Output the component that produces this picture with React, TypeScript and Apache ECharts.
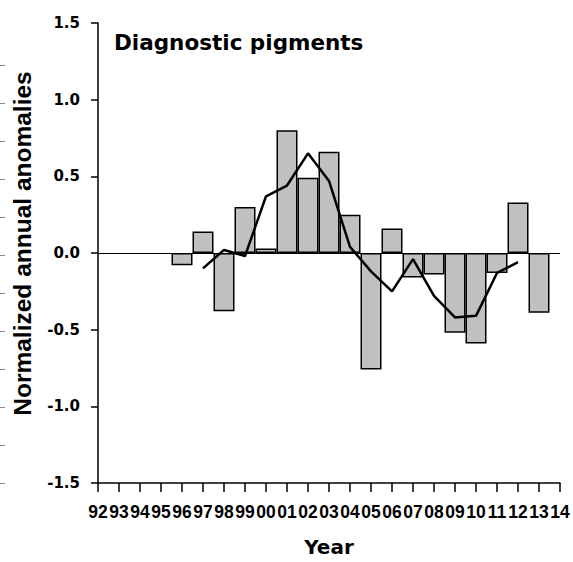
import React, { useEffect, useRef } from 'react';
import * as echarts from 'echarts';

// Tick labels of the year axis (1992 … 2014)
const tickLabels = ['92', '93', '94', '95', '96', '97', '98', '99', '00', '01', '02', '03', '04', '05', '06', '07', '08', '09', '10', '11', '12', '13', '14'];

// Annual anomalies (bars)
const barYears = ['96', '97', '98', '99', '00', '01', '02', '03', '04', '05', '06', '07', '08', '09', '10', '11', '12', '13'];
const barValues = [-0.08, 0.14, -0.38, 0.30, 0.03, 0.80, 0.49, 0.66, 0.25, -0.76, 0.16, -0.16, -0.14, -0.52, -0.59, -0.13, 0.33, -0.39];

// Smoothed anomalies (line)
const lineYears = ['97', '98', '99', '00', '01', '02', '03', '04', '05', '06', '07', '08', '09', '10', '11', '12'];
const lineValues = [-0.10, 0.02, -0.02, 0.37, 0.44, 0.65, 0.47, 0.04, -0.12, -0.25, -0.04, -0.28, -0.42, -0.41, -0.13, -0.06];

const titleText = 'Diagnostic pigments';
const yName = 'Normalized annual anomalies';
const xName = 'Year';

export default function App() {
  const ref = useRef<HTMLDivElement>(null);

  useEffect(() => {
    if (!ref.current) return;
    const chart = echarts.init(ref.current, null, { renderer: 'svg' });
    const idx = (y: string) => tickLabels.indexOf(y);

    chart.setOption({
      animation: false,
      backgroundColor: '#ffffff',
      title: {
        text: titleText,
        left: 114,
        top: 31,
        padding: 0,
        textStyle: { fontFamily: 'DejaVu Sans', fontWeight: 'bold', fontSize: 21.5, color: '#000' },
      },
      graphic: [
        {
          type: 'text',
          x: 22,
          y: 243.5,
          rotation: Math.PI / 2,
          style: {
            text: yName,
            fontFamily: 'Liberation Sans, Arial, sans-serif',
            fontWeight: 'bold',
            fontSize: 24.5,
            fill: '#000',
            textAlign: 'center',
            textVerticalAlign: 'middle',
          },
        },
      ],
      grid: [
        { left: 98, top: 23, width: 462, height: 461 },
        { left: 0, top: 65, width: 10, height: 418 },
      ],
      xAxis: [
        {
          type: 'value',
          gridIndex: 0,
          min: 0,
          max: tickLabels.length - 1,
          interval: 1,
          splitLine: { show: false },
          axisLine: { onZero: false, lineStyle: { color: '#000', width: 1.5 } },
          axisTick: { length: 9, lineStyle: { color: '#000', width: 1.5 } },
          axisLabel: {
            formatter: (v: number) => tickLabels[v] ?? '',
            fontFamily: 'Liberation Sans, Arial, sans-serif',
            fontWeight: 'bold',
            fontSize: 17.5,
            color: '#000',
            margin: 20,
          },
          name: xName,
          nameLocation: 'middle',
          nameGap: 54,
          nameTextStyle: { fontFamily: 'DejaVu Sans', fontWeight: 'bold', fontSize: 20, color: '#000' },
        },
        { type: 'value', gridIndex: 1, min: 0, max: 1, show: false },
      ],
      yAxis: [
        {
          type: 'value',
          gridIndex: 0,
          min: -1.5,
          max: 1.5,
          interval: 0.5,
          splitLine: { show: false },
          axisLine: { show: true, onZero: false, lineStyle: { color: '#000', width: 1.5 } },
          axisTick: { show: true, length: 7, lineStyle: { color: '#000', width: 1.5 } },
          axisLabel: {
            formatter: (v: number) => v.toFixed(1),
            fontFamily: 'DejaVu Sans',
            fontWeight: 'bold',
            fontSize: 15,
            color: '#000',
            margin: 18,
          },
        },
        {
          type: 'value',
          gridIndex: 1,
          min: 0,
          max: 11,
          interval: 1,
          splitLine: { show: false },
          axisLine: { show: false },
          axisTick: { show: true, inside: true, length: 5, lineStyle: { color: '#888', width: 1 } },
          axisLabel: { show: false },
        },
      ],
      series: [
        {
          type: 'bar',
          xAxisIndex: 0,
          yAxisIndex: 0,
          data: barYears.map((y, i) => [idx(y), barValues[i]]),
          barWidth: 21,
          itemStyle: { color: '#c0c0c0', borderColor: '#000', borderWidth: 1.5 },
          markLine: {
            silent: true,
            symbol: ['none', 'none'],
            label: { show: false },
            lineStyle: { color: '#000', width: 1, type: 'solid' },
            data: [{ yAxis: 0 }],
          },
        },
        {
          type: 'line',
          xAxisIndex: 0,
          yAxisIndex: 0,
          data: lineYears.map((y, i) => [idx(y), lineValues[i]]),
          symbol: 'none',
          lineStyle: { color: '#000', width: 2.5 },
          z: 5,
        },
      ],
    });

    return () => chart.dispose();
  }, []);

  return <div ref={ref} style={{ position: 'fixed', left: 0, top: 0, width: 573, height: 562 }} />;
}
